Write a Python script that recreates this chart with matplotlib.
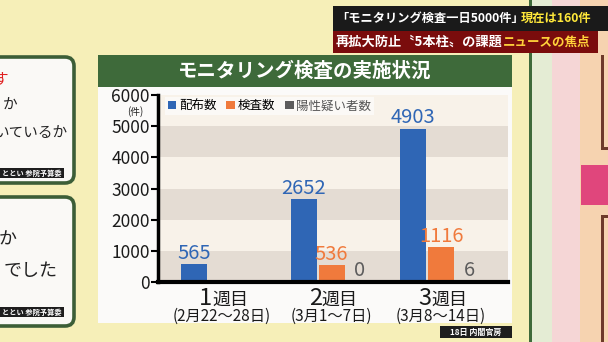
import numpy as np
import matplotlib
matplotlib.use("Agg")
import matplotlib.pyplot as plt
from matplotlib.patches import Rectangle, FancyBboxPatch

plt.rcParams['font.family'] = ['Noto Sans CJK JP', 'DejaVu Sans']

# weekly counts of monitoring tests
week_nums = ["1", "2", "3"]
periods = ["(2月22～28日)", "(3月1～7日)", "(3月8～14日)"]
distributed = [565, 2652, 4903]
tested = [np.nan, 536, 1116]
suspected = [np.nan, 0, 6]
series_names = ["配布数", "検査数", "陽性疑い者数"]
yticks = [0, 1000, 2000, 3000, 4000, 5000, 6000]

BLUE = "#2f66b5"
ORANGE = "#f07a3c"
GRAY = "#5c5c5c"
YELLOW_BG = "#f6efb8"
GREEN = "#3e6a3a"

W, H = 608, 342
fig = plt.figure(figsize=(W / 100, H / 100), dpi=100)
fig.patch.set_facecolor(YELLOW_BG)

# backdrop in pixel units
bg = fig.add_axes([0, 0, 1, 1])
bg.set_xlim(0, W)
bg.set_ylim(H, 0)
bg.axis("off")

def rect(x0, y0, x1, y1, **kw):
    bg.add_patch(Rectangle((x0, y0), x1 - x0, y1 - y0, **kw))

# strips on the right
rect(529, 0, 532, H, color=GREEN, lw=0)
rect(532, 0, 552, H, color="#e4ecd4", lw=0)
rect(552, 0, 580, H, color="#f5d6d6", lw=0)
rect(580, 0, W, H, color="#f6d3b0", lw=0)
rect(601, 55, 604, 150, color="#6e3a2a", lw=0)
rect(601, 147, W, 150, color="#6e3a2a", lw=0)
rect(601, 215, 604, H, color="#6e3a2a", lw=0)
rect(601, 215, W, 218, color="#6e3a2a", lw=0)
rect(581, 165, W, 205, color="#e0467c", lw=0)

# side cards on the left
for y0, y1 in [(57, 183), (197, 326)]:
    bg.add_patch(FancyBboxPatch((-20, y0), 94, y1 - y0,
                                boxstyle="round,pad=0,rounding_size=9",
                                fc="#faf9f6", ec="#3c5e37", lw=2.6))
bg.text(8, 80, "す", color="#e02020", fontsize=10.5, ha="right", va="center")
bg.text(17, 106, "か", color="#222", fontsize=10.5, ha="right", va="center")
bg.text(67, 133, "いているか", color="#222", fontsize=10.5, ha="right", va="center")
bg.text(17, 240, "か", color="#222", fontsize=13, ha="right", va="center")
bg.text(58, 271, "でした", color="#222", fontsize=13, ha="right", va="center")
for yc in [173, 312]:
    rect(0, yc - 5, 64, yc + 5, color="#1e1e1e", lw=0)
    bg.text(62, yc, "ととい 参院予算委", color="white", fontsize=5.2,
            fontweight="bold", ha="right", va="center")

# chart panel
rect(98, 86, 512, 323, color="#fbfaf9", lw=0)
rect(98, 55, 512, 87, color=GREEN, lw=0)
bg.text(305, 71, "モニタリング検査の実施状況", color="white", fontsize=14,
        fontweight="bold", ha="center", va="center")
rect(440, 326, 512, 338, color="#1e1e1e", lw=0)
bg.text(476, 332, "18日 内閣官房", color="white", fontsize=5.8,
        fontweight="bold", ha="center", va="center")
bg.text(135, 112, "(件)", color="#222", fontsize=7, ha="center", va="center")

# news caption
rect(333, 6, W, 31, color="#1a1a1a", lw=0)
rect(333, 31, 598, 53, color="#7a0c0c", lw=0)
bg.text(336, 18.5, "「モニタリング検査一日5000件」", color="white",
        fontsize=8.8, fontweight="bold", ha="left", va="center")
bg.text(521, 18.5, "現在は160件", color="#ffe83a", fontsize=8.8,
        fontweight="bold", ha="left", va="center")
bg.text(336, 42, "再拡大防止〝5本柱〟の課題", color="white", fontsize=9.5,
        fontweight="bold", ha="left", va="center")
bg.text(503, 42, "ニュースの焦点", color="#ffd23a", fontsize=9,
        fontweight="bold", ha="left", va="center")

# bar chart
left, right, top, bottom = 158, 508, 95, 282
ax = fig.add_axes([left / W, 1 - bottom / H, (right - left) / W, (bottom - top) / H])
ax.set_facecolor("none")
for i in range(len(yticks) - 1):
    ax.axhspan(yticks[i], yticks[i + 1], color="#e4dcd3" if i % 2 == 0 else "#f8f2e9",
               lw=0, zorder=0)

x = np.arange(len(week_nums))
bw = 0.237
step = 0.256
colors = [BLUE, ORANGE, GRAY]
for k, (vals, c, name) in enumerate(zip([distributed, tested, suspected], colors, series_names)):
    xs = x + (k - 1) * step
    ax.bar(xs, vals, width=bw, color=c, label=name, zorder=2)
    for xi, v in zip(xs, vals):
        if np.isnan(v):
            continue
        ax.annotate(f"{int(v)}", (xi, v), xytext=(0, 0.5), textcoords="offset points",
                    ha="center", va="bottom", fontsize=14.5, color=c)

ax.set_xlim(-0.585, 2.61)
ax.set_ylim(0, 6000)
ax.set_yticks(yticks)
ax.set_yticklabels([str(t) for t in yticks], fontsize=12.5, color="#1a1a1a")
ax.tick_params(axis="y", length=5, width=1.5, pad=1)
ax.set_xticks([])
for s in ["top", "right"]:
    ax.spines[s].set_visible(False)
ax.spines["left"].set_linewidth(2.5)
ax.spines["bottom"].set_linewidth(3)

for xi, n, p in zip(x, week_nums, periods):
    ax.annotate(n, (xi, 0), xycoords=("data", "axes fraction"), xytext=(-7, -12),
                textcoords="offset points", ha="right", va="center",
                fontsize=17, color="#1a1a1a")
    ax.annotate("週目", (xi, 0), xycoords=("data", "axes fraction"), xytext=(-7, -13),
                textcoords="offset points", ha="left", va="center",
                fontsize=13, color="#1a1a1a")
    ax.annotate(p, (xi, 0), xycoords=("data", "axes fraction"), xytext=(0, -25),
                textcoords="offset points", ha="center", va="center",
                fontsize=11, color="#1a1a1a")

leg = ax.legend(loc="upper left", bbox_to_anchor=(0.02, 0.99), ncol=3, fontsize=9,
                frameon=True, facecolor="#fbf9f6", edgecolor="none", fancybox=False,
                framealpha=1, handlelength=0.7, handleheight=0.7, handletextpad=0.2,
                columnspacing=0.8, borderpad=0.2, borderaxespad=0)
leg.get_texts()[2].set_color("#555")

fig.savefig("out.png", dpi=100, facecolor=fig.get_facecolor())
